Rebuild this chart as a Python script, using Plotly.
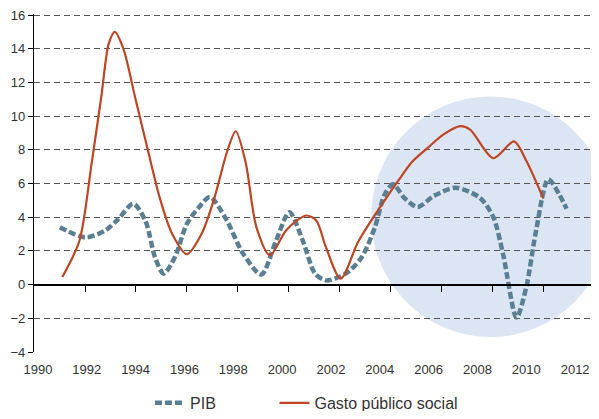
import plotly.graph_objects as go

# Serie PIB (crecimiento real, %)
pib_years = [1990.9, 1991.95, 1992.75, 1993.3, 1993.9, 1994.4, 1994.8, 1995.15, 1995.6,
             1996.1, 1996.6, 1997.05, 1997.7, 1998.4, 1999.15, 1999.75, 2000.3, 2000.85,
             2001.35, 2001.8, 2002.6, 2003.25, 2003.8, 2004.2, 2004.55, 2005.0, 2005.55,
             2006.2, 2007.1, 2008.1, 2008.65, 2009.05, 2009.6, 2010.0, 2010.4, 2010.9,
             2011.35, 2011.65]
pib_values = [3.4, 2.8, 3.2, 3.9, 4.8, 3.8, 1.6, 0.65, 1.6,
              3.6, 4.6, 5.2, 3.9, 1.85, 0.6, 2.6, 4.3, 2.6,
              0.65, 0.25, 0.65, 1.6, 3.4, 5.35, 5.95, 5.15, 4.6,
              5.25, 5.75, 5.15, 4.0, 1.8, -1.95, -0.15, 3.2, 6.25,
              5.35, 4.5]

# Serie gasto público social (crecimiento real, %)
gasto_years = [1991.0, 1991.7, 1992.2, 1992.6, 1992.9, 1993.15, 1993.5, 1994.0, 1994.5,
               1995.0, 1995.5, 1996.1, 1996.7, 1997.2, 1997.75, 1998.1, 1998.5, 1998.95,
               1999.5, 2000.15, 2000.6, 2001.0, 2001.4, 2001.8, 2002.4, 2003.1, 2003.65,
               2004.2, 2004.75, 2005.3, 2005.95, 2006.6, 2007.3, 2007.7, 2008.65, 2009.5,
               2010.0, 2010.7]
gasto_values = [0.45, 2.6, 7.2, 11.2, 14.3, 15.0, 14.0, 11.0, 8.0,
                5.1, 3.0, 1.8, 3.0, 5.0, 7.9, 9.1, 7.3, 3.4,
                1.75, 3.2, 3.8, 4.1, 3.8, 2.2, 0.35, 2.5, 3.8,
                5.0, 6.15, 7.25, 8.1, 8.9, 9.4, 9.2, 7.5, 8.5,
                7.35, 5.1]

x_labels = [1990, 1992, 1994, 1996, 1998, 2000, 2002, 2004, 2006, 2008, 2010, 2012]
y_ticks = [-4, -2, 0, 2, 4, 6, 8, 10, 12, 14, 16]
# marcas del eje de categorías sobre la línea del cero
zero_ticks = [1991.93, 1994.01, 1996.1, 1998.19, 2000.27, 2002.36, 2004.45,
              2006.53, 2008.62, 2010.71]

X_RANGE = [1989.84, 2012.65]
Y_RANGE = [-4, 16.06]
FONT = "Liberation Sans, Arial, sans-serif"
TEXT = "#333333"

fig = go.Figure()

fig.add_trace(go.Scatter(
    x=pib_years, y=pib_values, mode="lines", name="PIB", legend="legend",
    line=dict(color="#5b7f92", width=4.5, dash="7px,3px", shape="spline", smoothing=0.8),
))
fig.add_trace(go.Scatter(
    x=gasto_years, y=gasto_values, mode="lines", name="Gasto público social", legend="legend2",
    line=dict(color="#bf4524", width=2.2, shape="spline", smoothing=0.8),
))
# eje auxiliar para las marcas sobre el cero
fig.add_trace(go.Scatter(x=[None], y=[None], xaxis="x2", showlegend=False, hoverinfo="skip"))

# círculo resaltando 2004-2011
fig.add_shape(type="circle", xref="x", yref="y", x0=2003.65, x1=2013.42, y0=-3.11, y1=11.17,
              fillcolor="#dbe5f3", line=dict(width=0), layer="below")

legend_style = dict(orientation="h", xref="container", yref="container", y=0.02,
                    yanchor="middle", xanchor="left", font=dict(size=16, color=TEXT),
                    bgcolor="rgba(0,0,0,0)")

# la página deja 8 px de margen en el body: la figura se reduce en consecuencia
fig.update_layout(
    width=583, height=403,
    margin=dict(l=26, r=0, t=4, b=59),
    paper_bgcolor="white", plot_bgcolor="white",
    font=dict(family=FONT, size=13, color=TEXT),
    showlegend=True,
    legend=dict(x=0.2436, **legend_style),
    legend2=dict(x=0.457, **legend_style),
    xaxis=dict(range=X_RANGE, tickvals=x_labels, showgrid=False, zeroline=False,
               showline=False, ticks="outside", ticklen=5, tickcolor="rgba(0,0,0,0)",
               ticklabeloverflow="allow", tickfont=dict(size=13, color=TEXT)),
    xaxis2=dict(range=X_RANGE, overlaying="x", anchor="free", position=4 / 20.06, side="bottom",
                showline=True, linecolor="black", linewidth=1.5, ticks="outside", ticklen=7,
                tickwidth=1.2, tickcolor="black", tickvals=zero_ticks, showticklabels=False,
                showgrid=False, zeroline=False),
    yaxis=dict(range=Y_RANGE, tickvals=y_ticks, showgrid=True, gridcolor="#555555",
               griddash="6px,4px", gridwidth=1, zeroline=False, showline=True,
               linecolor="black", linewidth=1.2, ticks="outside", ticklen=5,
               tickcolor="black", ticklabeloverflow="allow",
               tickfont=dict(size=13, color=TEXT)),
)

fig.write_html("out.html")
